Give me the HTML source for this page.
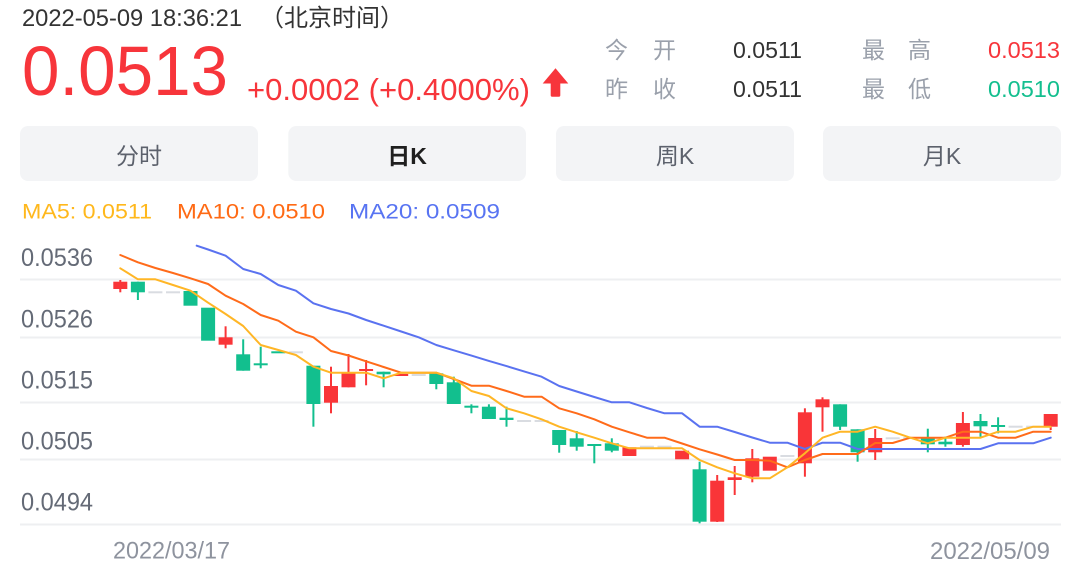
<!DOCTYPE html>
<html>
<head>
<meta charset="utf-8">
<style>
  html, body { margin: 0; padding: 0; background: #ffffff; }
  body { width: 1080px; height: 569px; overflow: hidden; }
  svg { display: block; }
  text { font-family: "Liberation Sans", "Noto Sans CJK SC", sans-serif; }
</style>
</head>
<body>
<svg width="1080" height="569" viewBox="0 0 1080 569" xmlns="http://www.w3.org/2000/svg">
  <rect x="0" y="0" width="1080" height="569" fill="#ffffff"/>

  <text x="22" y="26" font-size="24" fill="#333333" textLength="220" lengthAdjust="spacingAndGlyphs">2022-05-09 18:36:21</text>
  <text x="260" y="26" font-size="24" fill="#333333">（北京时间）</text>

  <text x="22" y="95" font-size="70" fill="#f7353b" textLength="206" lengthAdjust="spacingAndGlyphs">0.0513</text>
  <text x="247" y="100" font-size="31" fill="#f7353b" textLength="283" lengthAdjust="spacingAndGlyphs">+0.0002 (+0.4000%)</text>
  <polygon points="542.7,83.5 555.5,68.3 568.3,83.5" fill="#f7353b"/>
  <rect x="550.7" y="82" width="9.6" height="14.7" rx="1.5" fill="#f7353b"/>

  <g font-size="23">
    <text x="605" y="58" fill="#9aa0ab">今</text>
    <text x="653" y="58" fill="#9aa0ab">开</text>
    <text x="733" y="58" fill="#333333" textLength="69" lengthAdjust="spacingAndGlyphs">0.0511</text>
    <text x="862" y="58" fill="#9aa0ab">最</text>
    <text x="908" y="58" fill="#9aa0ab">高</text>
    <text x="988" y="58" fill="#f7353b" textLength="72" lengthAdjust="spacingAndGlyphs">0.0513</text>
    <text x="605" y="97" fill="#9aa0ab">昨</text>
    <text x="653" y="97" fill="#9aa0ab">收</text>
    <text x="733" y="97" fill="#333333" textLength="69" lengthAdjust="spacingAndGlyphs">0.0511</text>
    <text x="862" y="97" fill="#9aa0ab">最</text>
    <text x="908" y="97" fill="#9aa0ab">低</text>
    <text x="988" y="97" fill="#14bf8f" textLength="72" lengthAdjust="spacingAndGlyphs">0.0510</text>
  </g>

  <rect x="20" y="126" width="238" height="55" rx="8" fill="#f3f4f6"/>
  <rect x="288.3" y="126" width="237.7" height="55" rx="8" fill="#f3f4f6"/>
  <rect x="556" y="126" width="238" height="55" rx="8" fill="#f3f4f6"/>
  <rect x="823" y="126" width="238" height="55" rx="8" fill="#f3f4f6"/>
  <g font-size="23" text-anchor="middle">
    <text x="139" y="164" fill="#5c616c">分时</text>
    <text x="407" y="164" fill="#1f1f1f" font-weight="bold">日K</text>
    <text x="675" y="164" fill="#5c616c">周K</text>
    <text x="942" y="164" fill="#5c616c">月K</text>
  </g>

  <g font-size="21">
    <text x="22" y="218.5" fill="#ffb81c" textLength="130" lengthAdjust="spacingAndGlyphs">MA5: 0.0511</text>
    <text x="177" y="218.5" fill="#ff6a14" textLength="148" lengthAdjust="spacingAndGlyphs">MA10: 0.0510</text>
    <text x="349" y="218.5" fill="#5874f2" textLength="151" lengthAdjust="spacingAndGlyphs">MA20: 0.0509</text>
  </g>

  <g stroke="#eeeff1" stroke-width="2">
    <line x1="20" y1="279.5" x2="1061" y2="279.5"/>
    <line x1="20" y1="337.5" x2="1061" y2="337.5"/>
    <line x1="20" y1="402.5" x2="1061" y2="402.5"/>
    <line x1="20" y1="459.5" x2="1061" y2="459.5"/>
    <line x1="20" y1="524.5" x2="1061" y2="524.5"/>
  </g>

  <g font-size="25" fill="#646a76">
    <text x="21" y="266" textLength="72" lengthAdjust="spacingAndGlyphs">0.0536</text>
    <text x="21" y="327.3" textLength="72" lengthAdjust="spacingAndGlyphs">0.0526</text>
    <text x="21" y="388.3" textLength="72" lengthAdjust="spacingAndGlyphs">0.0515</text>
    <text x="21" y="449.5" textLength="72" lengthAdjust="spacingAndGlyphs">0.0505</text>
    <text x="21" y="510.7" textLength="72" lengthAdjust="spacingAndGlyphs">0.0494</text>
  </g>

  <g font-size="24" fill="#8e939e">
    <text x="113" y="558.5" textLength="117" lengthAdjust="spacingAndGlyphs">2022/03/17</text>
    <text x="930" y="559" textLength="120" lengthAdjust="spacingAndGlyphs">2022/05/09</text>
  </g>

  <g fill="#d9dce1">
    <rect x="148.4" y="291.3" width="14" height="2"/>
    <rect x="166" y="291.3" width="14" height="2"/>
    <rect x="288.9" y="351.3" width="14" height="2"/>
    <rect x="411.7" y="374" width="14" height="2"/>
    <rect x="517.1" y="420" width="14" height="2"/>
    <rect x="534.6" y="420" width="14" height="2"/>
    <rect x="639.9" y="445.7" width="14" height="2"/>
    <rect x="657.5" y="445.7" width="14" height="2"/>
    <rect x="780.4" y="455" width="14" height="2"/>
    <rect x="885.7" y="437.3" width="14" height="2"/>
    <rect x="903.3" y="437" width="14" height="2"/>
    <rect x="1008.6" y="425.7" width="14" height="2"/>
    <rect x="1026.2" y="425.7" width="14" height="2"/>
  </g>

  <g fill="#f93538">
    <rect x="119.3" y="280" width="2" height="12.3"/>
    <rect x="113.3" y="281.7" width="14" height="7.3"/>
    <rect x="224.6" y="326.3" width="2" height="22"/>
    <rect x="218.6" y="337.3" width="14" height="7.4"/>
    <rect x="330" y="366.7" width="2" height="46.6"/>
    <rect x="324" y="386" width="14" height="16.7"/>
    <rect x="347.5" y="354" width="2" height="33.3"/>
    <rect x="341.5" y="373.3" width="14" height="14"/>
    <rect x="365.1" y="360" width="2" height="25.3"/>
    <rect x="359.1" y="369" width="14" height="2"/>
    <rect x="394.2" y="374" width="14" height="2"/>
    <rect x="622.4" y="447.3" width="14" height="8.7"/>
    <rect x="675.1" y="450.7" width="14" height="8.6"/>
    <rect x="716.2" y="475" width="2" height="47"/>
    <rect x="710.2" y="480.7" width="14" height="41"/>
    <rect x="733.7" y="466" width="2" height="29"/>
    <rect x="727.7" y="477.3" width="14" height="2.7"/>
    <rect x="751.3" y="449" width="2" height="33.3"/>
    <rect x="745.3" y="458.3" width="14" height="18.4"/>
    <rect x="762.8" y="456.7" width="14" height="14"/>
    <rect x="803.9" y="408.3" width="2" height="68.4"/>
    <rect x="797.9" y="412.3" width="14" height="51"/>
    <rect x="821.5" y="397.3" width="2" height="34.4"/>
    <rect x="815.5" y="399.3" width="14" height="8"/>
    <rect x="874.2" y="429" width="2" height="31"/>
    <rect x="868.2" y="438" width="14" height="14.3"/>
    <rect x="961.9" y="412" width="2" height="34.7"/>
    <rect x="955.9" y="423" width="14" height="22"/>
    <rect x="1049.7" y="414" width="2" height="16"/>
    <rect x="1043.7" y="414" width="14" height="12.7"/>
  </g>

  <g fill="#12bf8e">
    <rect x="136.9" y="281.7" width="2" height="18.3"/>
    <rect x="130.9" y="281.7" width="14" height="10.6"/>
    <rect x="183.5" y="291" width="14" height="14.7"/>
    <rect x="201.1" y="307.7" width="14" height="33"/>
    <rect x="242.2" y="339.3" width="2" height="31.4"/>
    <rect x="236.2" y="354.3" width="14" height="16.4"/>
    <rect x="259.7" y="346.7" width="2" height="21.6"/>
    <rect x="253.7" y="363.3" width="14" height="2"/>
    <rect x="271.3" y="351.3" width="14" height="2"/>
    <rect x="312.4" y="365.7" width="2" height="61"/>
    <rect x="306.4" y="365.7" width="14" height="38.3"/>
    <rect x="382.6" y="371.7" width="2" height="15.6"/>
    <rect x="376.6" y="371.7" width="14" height="2.6"/>
    <rect x="435.3" y="373.3" width="2" height="16"/>
    <rect x="429.3" y="373.3" width="14" height="10.7"/>
    <rect x="452.8" y="376.7" width="2" height="27.3"/>
    <rect x="446.8" y="382.3" width="14" height="21.7"/>
    <rect x="470.4" y="404.3" width="2" height="9"/>
    <rect x="464.4" y="405.7" width="14" height="2"/>
    <rect x="487.9" y="404.3" width="2" height="14.7"/>
    <rect x="481.9" y="406.7" width="14" height="12.3"/>
    <rect x="505.5" y="406.7" width="2" height="20"/>
    <rect x="499.5" y="417.7" width="14" height="2.3"/>
    <rect x="558.2" y="430" width="2" height="22.7"/>
    <rect x="552.2" y="430" width="14" height="15"/>
    <rect x="575.7" y="431" width="2" height="19.7"/>
    <rect x="569.7" y="438.3" width="14" height="8.4"/>
    <rect x="593.3" y="444.5" width="2" height="18.8"/>
    <rect x="587.3" y="444" width="14" height="2"/>
    <rect x="610.8" y="438.3" width="2" height="14"/>
    <rect x="604.8" y="443.3" width="14" height="7.4"/>
    <rect x="698.6" y="461.7" width="2" height="61.6"/>
    <rect x="692.6" y="469.3" width="14" height="52.4"/>
    <rect x="839.1" y="404.3" width="2" height="25.7"/>
    <rect x="833.1" y="404.3" width="14" height="22.4"/>
    <rect x="856.6" y="429.3" width="2" height="32.4"/>
    <rect x="850.6" y="429.3" width="14" height="23"/>
    <rect x="926.8" y="428.7" width="2" height="23.6"/>
    <rect x="920.8" y="437.7" width="14" height="6.6"/>
    <rect x="944.4" y="436.7" width="2" height="10"/>
    <rect x="938.4" y="441.7" width="14" height="2.6"/>
    <rect x="979.5" y="414" width="2" height="22.7"/>
    <rect x="973.5" y="421" width="14" height="5.3"/>
    <rect x="997.1" y="417.3" width="2" height="16"/>
    <rect x="991.1" y="425" width="14" height="2"/>
  </g>

  <g fill="none" stroke-width="2" stroke-linejoin="round" stroke-linecap="round">
    <polyline stroke="#5a72f0" points="196.7,245.7 208.1,249.5 225.6,255.7 243.2,269 260.7,274 278.3,285 295.9,290.7 313.4,303.3 331,309 348.5,313.5 366.1,320 383.6,325.7 401.2,331.5 418.7,337.3 436.3,345 453.8,350.3 471.4,355.6 488.9,360.9 506.5,366.1 524.1,371.4 541.6,376.7 559.2,386 576.7,391.5 594.3,397 611.8,402.3 629.4,402.3 646.9,408 664.5,413.3 682.1,413.3 699.6,426.7 717.2,426.7 734.7,432 752.3,437.5 769.8,442.7 787.4,442.7 804.9,449 822.5,442.7 840.1,442.7 857.6,449 980.5,449 998.1,443.3 1033.2,443.3 1050.7,437.7"/>
    <polyline stroke="#ff6b1a" points="120.3,255 137.9,262.3 155.4,268 173,273 190.5,278.3 208.1,284 225.6,295.7 243.2,304 260.7,315 278.3,320.7 295.9,331.7 313.4,337.3 331,351 348.5,355.5 366.1,361.3 383.6,367 401.2,372.7 418.7,372.7 436.3,372.7 453.8,379 471.4,385.7 488.9,385.7 506.5,391 524.1,396.7 541.6,396.7 559.2,408.3 576.7,413.3 594.3,419.3 611.8,426.7 629.4,432.3 646.9,437.7 664.5,437.7 682.1,443.5 699.6,449.3 717.2,454.5 734.7,460 752.3,460 769.8,460.7 787.4,467.3 804.9,460 822.5,454 840.1,454 857.6,454 875.2,443 892.7,443 910.3,437.7 927.8,437.7 945.4,437.7 962.9,431.7 980.5,431.7 998.1,437.7 1015.6,437.7 1033.2,431.7 1050.7,431.7"/>
    <polyline stroke="#ffb626" points="120.3,268.3 137.9,279.3 155.4,279.3 173,285 190.5,290.7 208.1,302.7 225.6,314 243.2,326 260.7,345 278.3,350 295.9,355 313.4,366.7 331,372.7 348.5,372.7 366.1,372.7 383.6,378.3 401.2,372.7 418.7,372.7 436.3,372.7 453.8,378.3 471.4,391 488.9,396 506.5,408.3 524.1,413.3 541.6,419.3 559.2,426.7 576.7,432.3 594.3,437.7 611.8,443.3 629.4,448.3 646.9,448.3 664.5,448.3 682.1,448.3 699.6,460 717.2,467.3 734.7,473.3 752.3,478.3 769.8,478.3 787.4,467.3 804.9,453.3 822.5,437.7 840.1,431.7 857.6,431.7 875.2,426.7 892.7,431.7 910.3,437.7 927.8,443.3 945.4,437.7 962.9,437.7 980.5,437.7 998.1,431.7 1015.6,431.7 1033.2,426.7 1050.7,426.7"/>
  </g>
</svg>
</body>
</html>
